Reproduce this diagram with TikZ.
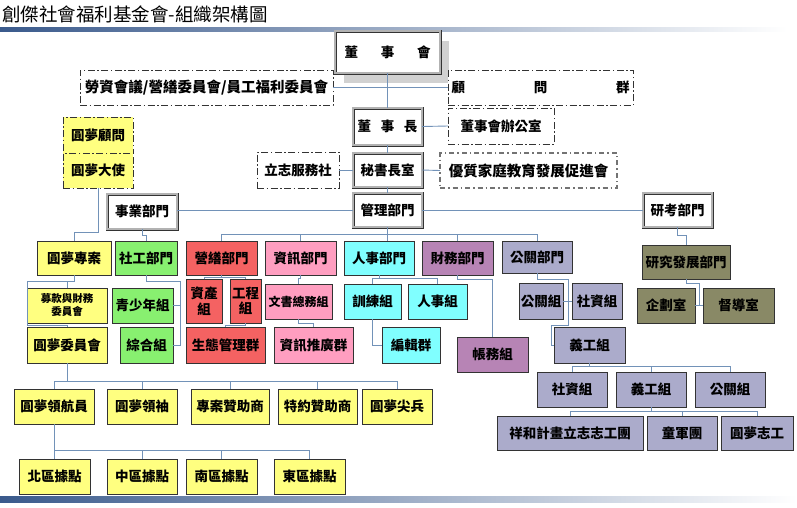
\documentclass[tikz,border=0pt]{standalone}
\usepackage{fontspec}
\newfontfamily\cjk{Noto Sans CJK TC}
\usetikzlibrary{shadows}
\definecolor{yel}{HTML}{FFFF80}
\definecolor{grn}{HTML}{88F070}
\definecolor{red1}{HTML}{F46262}
\definecolor{pnk}{HTML}{FF9EC0}
\definecolor{cyn}{HTML}{80FFFF}
\definecolor{pur}{HTML}{B784B5}
\definecolor{lav}{HTML}{ABABCB}
\definecolor{olv}{HTML}{898966}
\definecolor{lnk}{HTML}{7292B8}
\definecolor{bd}{HTML}{333333}
\definecolor{barL}{HTML}{3A5A8C}
\definecolor{barM}{HTML}{8EA6C8}
\newcommand\bxfont{\cjk\bfseries\fontsize{13.5}{15.5}\selectfont}
\newcommand\spr[2]{\makebox[#1pt]{#2}}
\newcommand\obox[7]{\node[#2, minimum width={(#5)-(#3)}, minimum height={(#6)-(#4)}] (#1) at ({((#3)+(#5))/2},{((#4)+(#6))/2}) {#7};}
\tikzset{
  box/.style={draw=bd, line width=0.9pt, inner sep=0pt, outer sep=0pt, font=\bxfont, align=center},
  yb/.style={box, fill=yel},
  gb/.style={box, fill=grn},
  rb/.style={box, fill=red1},
  pb/.style={box, fill=pnk},
  cb/.style={box, fill=cyn},
  mb/.style={box, fill=pur},
  lb/.style={box, fill=lav},
  ob/.style={box, fill=olv},
  dbl/.style={box, draw=bd, double=black!30, double distance=1.2pt, line width=0.9pt, fill=white},
  dd/.style={box, dash pattern=on 7pt off 2.5pt on 1.5pt off 2.5pt, fill=white},
  ydd/.style={box, dash pattern=on 7pt off 2.5pt on 1.5pt off 2.5pt, fill=yel},
  gdd/.style={box, draw=black!55, line width=1.3pt, dash pattern=on 5pt off 3pt on 1.5pt off 3pt, fill=white},
  conn/.style={draw=lnk, line width=0.9pt},
  shd/.style={general shadow={fill=black!18, shadow xshift=9pt, shadow yshift=-10pt}},
  small/.style={font=\cjk\bfseries\fontsize{10.5}{13}\selectfont},
  mid/.style={font=\cjk\bfseries\fontsize{12}{14}\selectfont},
  big/.style={font=\cjk\bfseries\fontsize{14.5}{16}\selectfont}
}
\begin{document}
\begin{tikzpicture}[x=1pt,y=-1pt]
\useasboundingbox (0,0) rectangle (797,507);
% bars and title
\shade[left color=barL, middle color=barM, right color=white] (0,27) rectangle (787,31);
\shade[left color=barL, middle color=barM, right color=white] (0,496) rectangle (797,502);
\node[anchor=west, inner sep=0pt, font=\cjk\fontsize{18.5}{20}\selectfont] (title) at (2,14) {創傑社會福利基金會-組織架構圖};

% top of the hierarchy
\obox{bod}{dbl,shd}{335}{31}{440}{73}{\spr{86}{董\hfill 事\hfill 會}}
\obox{labor}{dd,big}{80}{70}{333}{105}{勞資會議/營繕委員會/員工福利委員會}
\obox{adv}{dd}{448}{70}{633}{105}{\spr{178}{顧\hfill 問\hfill 群}}
\obox{chair}{dbl}{353}{108}{422}{145}{\spr{60}{董\hfill 事\hfill 長}}
\obox{office}{dd}{448}{108}{554}{144}{董事會辦公室}
\obox{sec}{dbl}{353}{153}{422}{187}{秘書長室}
\obox{volc}{dd}{257}{152}{339}{188}{立志服務社}
\obox{family}{gdd,big}{440}{153}{617}{188}{優質家庭教育發展促進會}
\obox{mgmt}{dbl}{353}{193}{422}{227}{管理部門}
\obox{biz}{dbl}{107}{194}{177}{229}{事業部門}
\obox{rc}{dbl}{643}{193}{712}{227}{研考部門}
\obox{cons}{ydd}{63}{117}{133}{153}{圓夢顧問}
\obox{amb}{ydd}{63}{153}{133}{188}{圓夢大使}

% business branch
\obox{proj}{yb}{37}{241}{111}{275}{圓夢專案}
\obox{sw}{gb}{115}{241}{177}{275}{社工部門}
\obox{fund}{yb,small}{27}{288}{107}{323}{募款與財務\\委員會}
\obox{comm}{yb}{27}{327}{107}{363}{圓夢委員會}
\obox{youth}{gb}{112}{288}{173}{323}{青少年組}
\obox{misc}{gb}{120}{327}{173}{363}{綜合組}
\obox{nav}{yb}{14}{389}{94}{424}{圓夢領航員}
\obox{lead}{yb}{107}{389}{177}{424}{圓夢領袖}
\obox{spon}{yb}{191}{389}{269}{424}{專案贊助商}
\obox{cspon}{yb}{278}{389}{357}{424}{特約贊助商}
\obox{sold}{yb}{362}{389}{432}{424}{圓夢尖兵}
\obox{north}{yb}{19}{459}{90}{494}{北區據點}
\obox{midr}{yb}{107}{459}{177}{494}{中區據點}
\obox{south}{yb}{186}{459}{257}{494}{南區據點}
\obox{east}{yb}{274}{459}{345}{494}{東區據點}

% management branch
\obox{build}{rb}{186}{241}{257}{275}{營繕部門}
\obox{asset}{rb}{186}{279}{222}{323}{資產\\組}
\obox{eng}{rb}{230}{279}{261}{323}{工程\\組}
\obox{eco}{rb}{186}{327}{265}{363}{生態管理群}
\obox{info}{pb}{265}{241}{336}{275}{資訊部門}
\obox{docs}{pb,mid}{265}{284}{332}{319}{文書總務組}
\obox{promo}{pb}{274}{327}{353}{363}{資訊推廣群}
\obox{hr}{cb}{344}{241}{414}{275}{人事部門}
\obox{train}{cb}{344}{284}{401}{319}{訓練組}
\obox{staff}{cb}{408}{284}{467}{319}{人事組}
\obox{edit}{cb}{382}{327}{440}{363}{編輯群}
\obox{fin}{mb}{422}{241}{493}{275}{財務部門}
\obox{acct}{mb}{457}{337}{528}{372}{帳務組}
\obox{pr}{lb}{502}{241}{572}{273}{公關部門}
\obox{prg}{lb}{519}{283}{563}{319}{公關組}
\obox{soc}{lb}{572}{283}{622}{319}{社資組}
\obox{vol}{lb}{554}{327}{625}{363}{義工組}
\obox{soc2}{lb}{537}{372}{607}{407}{社資組}
\obox{vol2}{lb}{616}{372}{686}{407}{義工組}
\obox{pr2}{lb}{695}{372}{765}{407}{公關組}
\obox{xh}{lb}{497}{416}{643}{450}{祥和計畫立志志工團}
\obox{scout}{lb}{647}{416}{717}{450}{童軍團}
\obox{dreamv}{lb}{721}{416}{793}{450}{圓夢志工}

% research branch
\obox{rd}{ob}{642}{245}{730}{279}{研究發展部門}
\obox{plan}{ob}{637}{288}{695}{323}{企劃室}
\obox{sup}{ob}{703}{288}{774}{323}{督導室}

% connectors: top
\draw[conn] (bod.south) -- (chair.north);
\draw[conn] (labor.east) -- (adv.west);
\draw[conn] (chair.east) -- (office.west);
\draw[conn] (chair.south) -- (sec.north);
\draw[conn] (sec.west) -- (volc.east);
\draw[conn] (sec.east) -- (family.west);
\draw[conn] (sec.south) -- (mgmt.north);
\draw[conn] (mgmt.west) -- (mgmt.west -| biz.east);
\draw[conn] (mgmt.east) -- (mgmt.east -| rc.west);
\draw[conn] (mgmt.south) -- (mgmt.south |- hr.north);
\draw[conn] (build.north) -- ++(0,-7) -| (pr.north);
\draw[conn] (info.north) -- ++(0,-7);
\draw[conn] (fin.north) -- ++(0,-7);

% connectors: business
\draw[conn] (amb.south) -- ++(0,44) -| (proj.north);
\draw[conn] (biz.south) -- ++(0,6) -| (sw.north);
\coordinate (pL1) at (27,281);
\coordinate (pL2) at (27,325);
\draw[conn] (proj.south) |- (pL1) -- (pL2) -| (comm.north);
\draw[conn] (fund.north) -- (fund.north |- pL1);
\draw[conn] (comm.south) -- ++(0,18);
\draw[conn] (nav.north) -- ++(0,-8) -| (sold.north);
\draw[conn] (lead.north) -- ++(0,-8);
\draw[conn] (spon.north) -- ++(0,-8);
\draw[conn] (cspon.north) -- ++(0,-8);
\draw[conn] (nav.south) -- (nav.south |- north.north);
\draw[conn] (north.north) -- ++(0,-9) -| (east.north);
\draw[conn] (midr.north) -- ++(0,-9);
\draw[conn] (south.north) -- ++(0,-9);
\coordinate (swR) at (180,281);
\draw[conn] (sw.south) |- (swR) |- (misc.east);
\draw[conn] (youth.east) -- (youth.east -| swR);

% connectors: management
\draw[conn] (asset.north) -- ++(0,-2) -| (eng.north);
\draw[conn] (build.south) -- ++(0,2);
\draw[conn] (eng.south) -- ++(0,2) -| (eco.north);
\draw[conn] (info.south) -- ++(0,3) -| (docs.north);
\draw[conn] (docs.south) -- ++(0,4) -| (promo.north);
\draw[conn] (train.north) -- ++(0,-6) -| (staff.north);
\draw[conn] (hr.south) -- ++(0,3);
\draw[conn] (train.south) |- (edit.west);
\draw[conn] (fin.south) -- ++(0,4) -| (acct.north);
\coordinate (prA) at (568,279);
\coordinate (prB) at (568,325);
\coordinate (prC) at (551,325);
\draw[conn] (pr.south) |- (prA) -- (prB) -- (prC) |- (vol.west);
\draw[conn] (prg.east) -- (soc.west);
\draw[conn] (vol.south) -- ++(0,3);
\draw[conn] (soc2.north) -- ++(0,-6) -| (pr2.north);
\draw[conn] (vol2.north) -- ++(0,-6);
\draw[conn] (vol2.south) -- ++(0,4);
\draw[conn] (xh.north) -- ++(0,-5) -| (dreamv.north);
\draw[conn] (scout.north) -- ++(0,-5);

% connectors: research
\draw[conn] (rc.south) -- ++(0,8) -| (rd.north);
\coordinate (rdA) at (699,283);
\draw[conn] (rd.south) |- (rdA) -- (rdA |- plan.east);
\draw[conn] (plan.east) -- (sup.west);
\end{tikzpicture}
\end{document}
